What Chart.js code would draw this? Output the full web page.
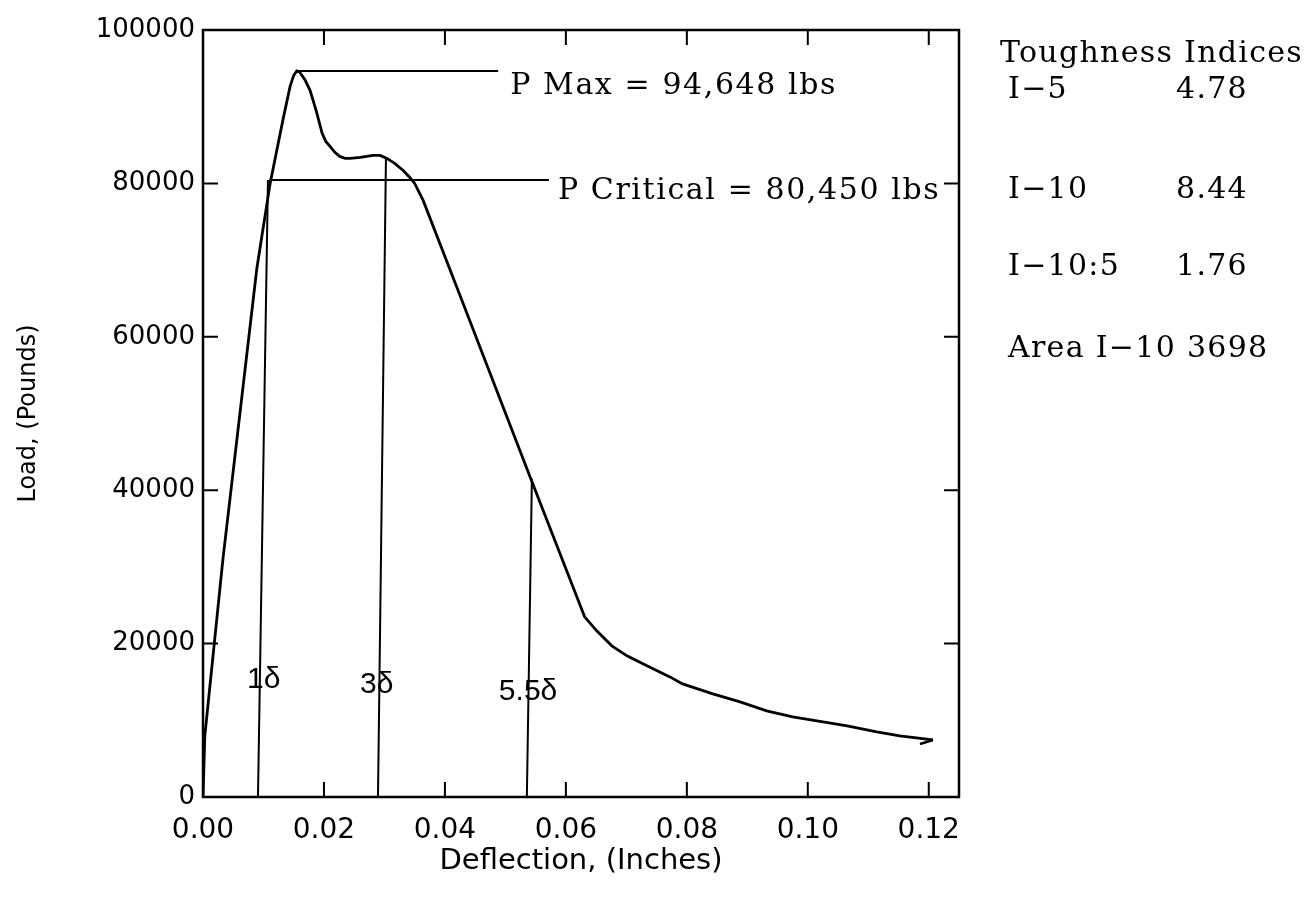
<!DOCTYPE html>
<html><head><meta charset="utf-8">
<script src="https://cdn.jsdelivr.net/npm/chart.js@4/dist/chart.umd.min.js"></script>
<style>html,body{margin:0;padding:0;background:#fff}</style>
</head><body>
<canvas id="c" width="1307" height="914"></canvas>
<script>
// Load–deflection curve
const deflection = [0, 0.0003, 0.0033, 0.0089, 0.0111, 0.0132, 0.0144, 0.0150, 0.0155, 0.0160, 0.0169, 0.0177, 0.0187, 0.0197, 0.0203, 0.0210, 0.0218, 0.0226, 0.0235, 0.0243, 0.0260, 0.0281, 0.0293, 0.0304, 0.0317, 0.0331, 0.0342, 0.0350, 0.0364, 0.0425, 0.0542, 0.0631, 0.0651, 0.0676, 0.0701, 0.0734, 0.0772, 0.0793, 0.0843, 0.0888, 0.0932, 0.0975, 0.1025, 0.1065, 0.1114, 0.1152, 0.1207];
const load = [0, 7960, 31060, 68900, 80000, 88220, 92650, 94090, 94648, 94490, 93440, 92130, 89520, 86520, 85480, 84830, 84050, 83520, 83260, 83260, 83390, 83650, 83650, 83260, 82610, 81690, 80770, 80000, 77780, 65380, 41500, 23490, 21660, 19710, 18400, 17100, 15660, 14750, 13440, 12400, 11220, 10440, 9790, 9270, 8480, 7960, 7440];

// Reference lines
const pMaxX = [0.0155, 0.0488];
const pMaxY = [94648, 94648];
const pCritX = [0.0110, 0.0572];
const pCritY = [80450, 80450];
const delta1X = [0.00909, 0.01074];
const delta1Y = [0, 80450];
const delta3X = [0.02893, 0.03025];
const delta3Y = [0, 83300];
const delta55X = [0.05355, 0.05438];
const delta55Y = [0, 41500];

// Text
const pMaxLabel = 'P Max = 94,648 lbs';
const pCritLabel = 'P Critical = 80,450 lbs';
const deltaLabels = ['1δ', '3δ', '5.5δ'];
const indexTitle = 'Toughness Indices';
const indexNames = ['I−5', 'I−10', 'I−10:5'];
const indexValues = ['4.78', '8.44', '1.76'];
const areaLabel = 'Area I−10 3698';

// Axis ticks
const xTickStep = 0.02, xMin = 0, xMax = 0.125;
const yTickStep = 20000, yMin = 0, yMax = 100000;

function pts(xs, ys) { return xs.map((x, i) => ({x: x, y: ys[i]})); }

const lineStyle = {borderColor: '#000', borderWidth: 2, pointRadius: 0, showLine: true, fill: false, tension: 0};

const framePlugin = {
  id: 'frame',
  afterDatasetsDraw(chart) {
    const {ctx, chartArea: a, scales: {x, y}} = chart;
    ctx.save();
    ctx.strokeStyle = '#000';
    ctx.lineWidth = 2.5;
    ctx.strokeRect(a.left, a.top, a.right - a.left, a.bottom - a.top);
    const tl = 15;
    ctx.lineWidth = 2;
    ctx.beginPath();
    x.ticks.forEach(t => {
      if (t.value <= xMin || t.value >= xMax) return;
      const px = x.getPixelForValue(t.value);
      ctx.moveTo(px, a.bottom); ctx.lineTo(px, a.bottom - tl);
      ctx.moveTo(px, a.top); ctx.lineTo(px, a.top + tl);
    });
    y.ticks.forEach(t => {
      if (t.value <= yMin || t.value >= yMax) return;
      const py = y.getPixelForValue(t.value);
      ctx.moveTo(a.left, py); ctx.lineTo(a.left + tl, py);
      ctx.moveTo(a.right, py); ctx.lineTo(a.right - tl, py);
    });
    ctx.stroke();

    // small arrowhead at the end of the curve
    const n = deflection.length - 1;
    const ex = x.getPixelForValue(deflection[n]), ey = y.getPixelForValue(load[n]);
    ctx.lineWidth = 2.5;
    ctx.beginPath();
    ctx.moveTo(ex, ey); ctx.lineTo(ex - 13, ey + 4);
    ctx.stroke();

    // annotation text
    ctx.fillStyle = '#000';
    ctx.textBaseline = 'alphabetic';
    ctx.textAlign = 'left';
    ctx.font = '30px "DejaVu Serif"';
    ctx.letterSpacing = '1.6px';
    ctx.fillText(pMaxLabel, x.getPixelForValue(pMaxX[1]) + 12, y.getPixelForValue(pMaxY[0]) + 23);
    ctx.fillText(pCritLabel, x.getPixelForValue(pCritX[1]) + 9, y.getPixelForValue(pCritY[0]) + 19);

    ctx.letterSpacing = '0px';
    ctx.font = '30px "Liberation Sans"';
    const dls = [[delta1X, -11, 688], [delta3X, -18, 693], [delta55X, -28, 700]];
    dls.forEach((d, i) => {
      ctx.fillText(deltaLabels[i], x.getPixelForValue(d[0][0]) + d[1], d[2]);
    });

    // toughness panel
    ctx.font = '30px "DejaVu Serif"';
    ctx.letterSpacing = '1.3px';
    ctx.fillText(indexTitle, 1000, 62);
    const rowsY = [98, 198, 275];
    indexNames.forEach((nm, i) => {
      ctx.fillText(nm, 1008, rowsY[i]);
      ctx.fillText(indexValues[i], 1176, rowsY[i]);
    });
    ctx.fillText(areaLabel, 1008, 357);
    ctx.restore();
  }
};

Chart.defaults.font.family = '"DejaVu Sans"';
Chart.defaults.color = '#000';

new Chart(document.getElementById('c'), {
  type: 'scatter',
  data: {
    datasets: [
      Object.assign({data: pts(deflection, load)}, lineStyle, {borderWidth: 2.8}),
      Object.assign({data: pts(pMaxX, pMaxY)}, lineStyle),
      Object.assign({data: pts(pCritX, pCritY)}, lineStyle),
      Object.assign({data: pts(delta1X, delta1Y)}, lineStyle),
      Object.assign({data: pts(delta3X, delta3Y)}, lineStyle),
      Object.assign({data: pts(delta55X, delta55Y)}, lineStyle)
    ]
  },
  options: {
    responsive: false,
    animation: false,
    devicePixelRatio: 1,
    layout: {padding: {left: 0, top: 30, right: 348, bottom: 0}},
    plugins: {legend: {display: false}, tooltip: {enabled: false}},
    scales: {
      x: {
        type: 'linear', min: xMin, max: xMax,
        grid: {display: false, drawTicks: false},
        border: {display: false},
        ticks: {stepSize: xTickStep, includeBounds: false, padding: 17, maxRotation: 0,
          font: {size: 28}, callback: v => Number(v).toFixed(2)},
        title: {display: true, text: 'Deflection, (Inches)', font: {size: 29}, padding: {top: 0, bottom: 35}},
        afterFit: s => { s.height = 117; }
      },
      y: {
        type: 'linear', min: yMin, max: yMax,
        grid: {display: false, drawTicks: false},
        border: {display: false},
        ticks: {stepSize: yTickStep, padding: 8, font: {size: 26}, callback: v => String(v)},
        title: {display: true, text: 'Load, (Pounds)', font: {size: 24}, padding: {top: 14, bottom: 0}},
        afterFit: s => { s.width = 203; }
      }
    }
  },
  plugins: [framePlugin]
});
</script>
</body></html>
